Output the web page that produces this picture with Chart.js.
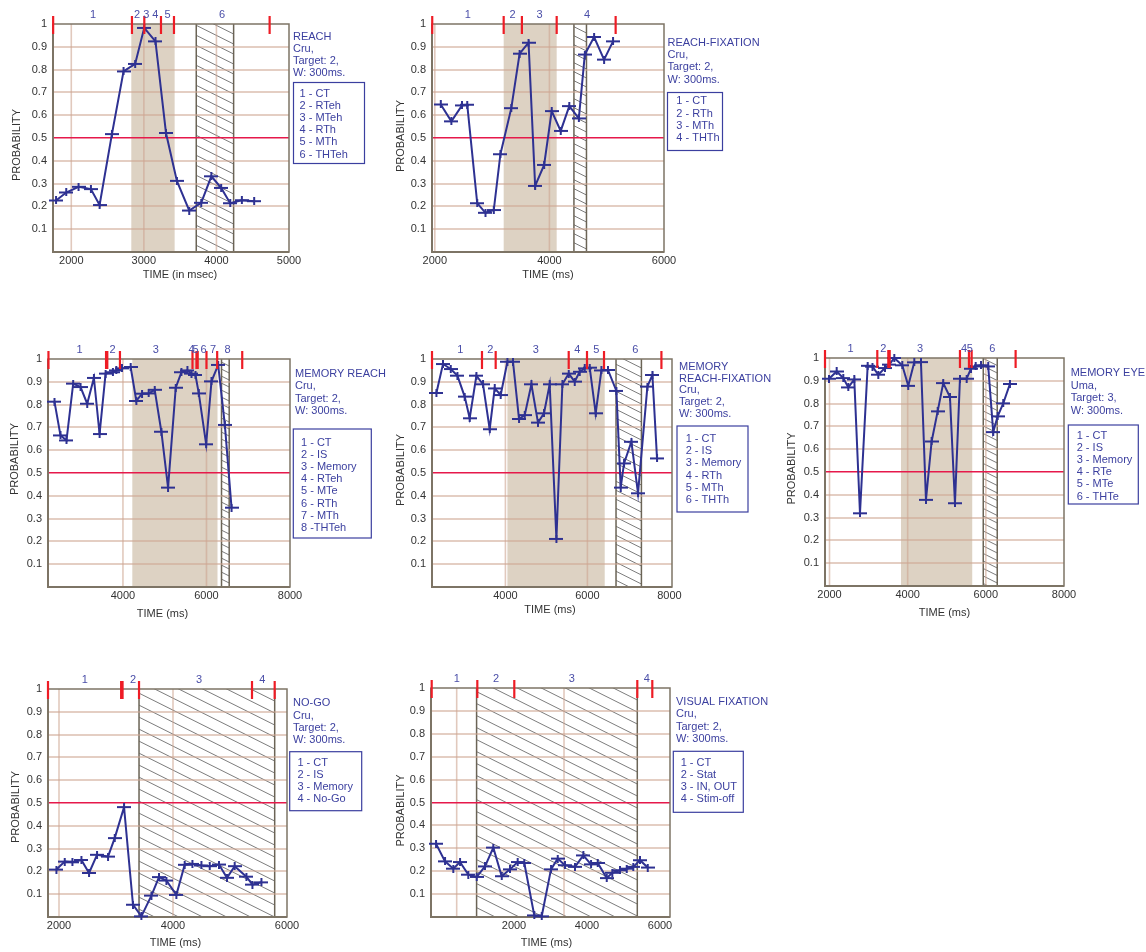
<!DOCTYPE html>
<html>
<head>
<meta charset="utf-8">
<script src="https://cdn.jsdelivr.net/npm/chart.js@4.4.0/dist/chart.umd.min.js"></script>
<style>
  body { margin: 0; background: #fff; width: 1146px; height: 952px; overflow: hidden; position: relative; }
  canvas { position: absolute; }
</style>
</head>
<body>
<script>
// ---- data (time in ms, probability) ----
const yTicks = [0, 0.1, 0.2, 0.3, 0.4, 0.5, 0.6, 0.7, 0.8, 0.9, 1];
const yLabels = ['', '0.1', '0.2', '0.3', '0.4', '0.5', '0.6', '0.7', '0.8', '0.9', '1'];

// REACH
const reachT = [1790, 1930, 2100, 2270, 2390, 2560, 2720, 2880, 3005, 3160, 3305, 3455, 3625, 3790, 3930, 4065, 4190, 4350, 4520];
const reachP = [0.226, 0.261, 0.286, 0.276, 0.206, 0.517, 0.792, 0.825, 0.983, 0.924, 0.522, 0.312, 0.182, 0.216, 0.332, 0.281, 0.214, 0.227, 0.223];
const reachEvents = [1750, 2836, 3006, 3236, 3415, 4733];
const reachLabelT = [2299, 2905, 3034, 3158, 3327, 4076];
const reachShade = [[2827, 3424]];
const reachHatch = [[3722, 4237]];
const reachXTicks = [2000, 3000, 4000, 5000];
const reachXGrid = [2000, 3000, 4000];
const reachNote = ['REACH', 'Cru,', 'Target: 2,', 'W: 300ms.'];
const reachLegend = ['1 - CT', '2 - RTeh', '3 - MTeh', '4 - RTh', '5 - MTh', '6 - THTeh'];

// REACH-FIXATION
const rfixT = [2104, 2289, 2474, 2566, 2740, 2884, 3029, 3145, 3335, 3480, 3636, 3751, 3908, 4040, 4197, 4347, 4514, 4618, 4780, 4954, 5110];
const rfixP = [0.647, 0.573, 0.643, 0.646, 0.214, 0.172, 0.184, 0.429, 0.631, 0.870, 0.918, 0.290, 0.382, 0.618, 0.531, 0.640, 0.586, 0.866, 0.943, 0.844, 0.924];
const rfixEvents = [1955, 3202, 3520, 4127, 5156];
const rfixLabelT = [2578, 3358, 3827, 4659];
const rfixShade = [[3202, 4127]];
const rfixHatch = [[4428, 4647]];
const rfixXTicks = [2000, 4000, 6000];
const rfixXGrid = [2000, 4000];
const rfixNote = ['REACH-FIXATION', 'Cru,', 'Target: 2,', 'W: 300ms.'];
const rfixLegend = ['1 - CT', '2 - RTh', '3 - MTh', '4 - THTh'];

// MEMORY REACH
const mreachT = [2360, 2504, 2648, 2808, 2984, 3144, 3304, 3440, 3584, 3760, 3840, 3976, 4184, 4320, 4456, 4616, 4760, 4920, 5080, 5264, 5400, 5544, 5640, 5736, 5816, 5992, 6120, 6280, 6440, 6600];
const mreachP = [0.813, 0.665, 0.643, 0.892, 0.877, 0.804, 0.917, 0.671, 0.936, 0.942, 0.950, 0.959, 0.965, 0.816, 0.848, 0.849, 0.865, 0.681, 0.436, 0.874, 0.942, 0.950, 0.936, 0.930, 0.849, 0.626, 0.902, 0.974, 0.711, 0.348];
const mreachEvents = [2216, 3595, 3625, 3928, 5665, 5760, 5790, 6000, 6256, 6856];
const mreachLabelT = [2961, 3753, 4785, 5641, 5737, 5929, 6160, 6506];
const mreachShade = [[4224, 6264]];
const mreachHatch = [[6360, 6544]];
const mreachXTicks = [4000, 6000, 8000];
const mreachXGrid = [4000, 6000];
const mreachNote = ['MEMORY REACH', 'Cru,', 'Target: 2,', 'W: 300ms.'];
const mreachLegend = ['1 - CT', '2 - IS', '3 - Memory', '4 - RTeh', '5 - MTe', '6 - RTh', '7 - MTh', '8 -THTeh'];

// MEMORY REACH-FIXATION
const mfixT = [2317, 2478, 2666, 2829, 3007, 3129, 3293, 3454, 3617, 3739, 3885, 4049, 4185, 4332, 4471, 4634, 4795, 4941, 5080, 5244, 5390, 5544, 5690, 5812, 5934, 6056, 6202, 6341, 6502, 6707, 6812, 6893, 7073, 7234, 7463, 7585, 7698];
const mfixP = [0.851, 0.978, 0.956, 0.927, 0.835, 0.740, 0.927, 0.889, 0.692, 0.871, 0.842, 0.988, 0.988, 0.737, 0.754, 0.889, 0.721, 0.762, 0.889, 0.211, 0.889, 0.936, 0.901, 0.944, 0.959, 0.962, 0.762, 0.950, 0.952, 0.860, 0.436, 0.542, 0.637, 0.411, 0.879, 0.930, 0.564];
const mfixEvents = [2210, 3429, 3763, 5544, 5990, 6405, 7805];
const mfixLabelT = [2902, 3634, 4739, 5756, 6219, 7170];
const mfixShade = [[4049, 6422]];
const mfixHatch = [[6698, 7317]];
const mfixXTicks = [4000, 6000, 8000];
const mfixXGrid = [4000, 6000];
const mfixNote = ['MEMORY', 'REACH-FIXATION', 'Cru,', 'Target: 2,', 'W: 300ms.'];
const mfixLegend = ['1 - CT', '2 - IS', '3 - Memory', '4 - RTh', '5 - MTh', '6 - THTh'];

// MEMORY EYE
const meyeT = [1987, 2184, 2353, 2481, 2634, 2780, 2977, 3100, 3248, 3419, 3530, 3657, 3862, 4015, 4169, 4340, 4468, 4613, 4767, 4910, 5082, 5210, 5338, 5509, 5619, 5739, 5875, 6061, 6189, 6302, 6445, 6616];
const meyeP = [0.909, 0.941, 0.912, 0.871, 0.906, 0.319, 0.966, 0.962, 0.927, 0.956, 0.971, 1.0, 0.968, 0.878, 0.981, 0.982, 0.378, 0.634, 0.766, 0.890, 0.829, 0.363, 0.909, 0.909, 0.953, 0.963, 0.968, 0.963, 0.675, 0.744, 0.801, 0.886];
const meyeEvents = [1885, 3223, 3505, 3540, 5338, 5568, 5637, 6762];
const meyeLabelT = [2542, 3376, 4315, 5440, 5593, 6164];
const meyeShade = [[3829, 5652]];
const meyeHatch = [[5934, 6292]];
const meyeXTicks = [2000, 4000, 6000, 8000];
const meyeXGrid = [2000, 4000, 6000];
const meyeNote = ['MEMORY EYE', 'Uma,', 'Target: 3,', 'W: 300ms.'];
const meyeLegend = ['1 - CT', '2 - IS', '3 - Memory', '4 - RTe', '5 - MTe', '6 - THTe'];

// NO-GO
const nogoT = [1954, 2100, 2235, 2393, 2527, 2667, 2860, 2977, 3141, 3298, 3445, 3621, 3754, 3884, 4059, 4205, 4340, 4498, 4644, 4807, 4947, 5082, 5288, 5393, 5551];
const nogoP = [0.208, 0.243, 0.240, 0.250, 0.193, 0.273, 0.265, 0.346, 0.482, 0.054, 0.003, 0.094, 0.175, 0.160, 0.097, 0.229, 0.233, 0.226, 0.223, 0.230, 0.172, 0.223, 0.177, 0.142, 0.152];
const nogoEvents = [1807, 3090, 3115, 3404, 5386, 5784];
const nogoLabelT = [2451, 3298, 4456, 5568];
const nogoShade = [];
const nogoHatch = [[3404, 5784]];
const nogoXTicks = [2000, 4000, 6000];
const nogoXGrid = [2000, 4000];
const nogoNote = ['NO-GO', 'Cru,', 'Target: 2,', 'W: 300ms.'];
const nogoLegend = ['1 - CT', '2 - IS', '3 - Memory', '4 - No-Go'];

// VISUAL FIXATION
const vfixT = [-137, 110, 337, 521, 748, 978, 1205, 1433, 1663, 1890, 2101, 2282, 2556, 2759, 3014, 3197, 3397, 3671, 3899, 4110, 4293, 4540, 4693, 4904, 5088, 5268, 5452, 5663];
const vfixP = [0.320, 0.243, 0.211, 0.240, 0.185, 0.175, 0.221, 0.303, 0.178, 0.208, 0.240, 0.236, 0.007, 0.003, 0.208, 0.255, 0.226, 0.219, 0.269, 0.230, 0.236, 0.170, 0.193, 0.204, 0.211, 0.219, 0.248, 0.216];
const vfixEvents = [-255, 995, 2008, 5378, 5789];
const vfixLabelT = [430, 1507, 3581, 5636];
const vfixShade = [];
const vfixHatch = [[975, 5378]];
const vfixXTicks = [2000, 4000, 6000];
const vfixXGrid = [430, 3370];
const vfixNote = ['VISUAL FIXATION', 'Cru,', 'Target: 2,', 'W: 300ms.'];
const vfixLegend = ['1 - CT', '2 - Stat', '3 - IN, OUT', '4 - Stim-off'];

// ---- styling ----
const FONT = '"Liberation Sans", Arial, sans-serif';
const LINE = '#2e3192';
const NOTE = '#3b3f9f';
const LABEL = '#4a4ea8';
const TICK = '#333333';

// panel placement on the page (plot box) and text offsets
const panels = [
  { t: reachT, p: reachP, ev: reachEvents, lt: reachLabelT, shade: reachShade, hatch: reachHatch, xt: reachXTicks, xg: reachXGrid, note: reachNote, leg: reachLegend,
    xmin: 1748, xmax: 5000, L: 53, T: 24, W: 236, H: 228, rs: 100, gap: 10, xTitle: 'TIME (in msec)',
    yt: [-36, 7], xtt: [9, 23], nt: [4, 13, 12], box: [4.5, 58.5, 71, 81], lg: [10.5, 70, 12.1] },
  { t: rfixT, p: rfixP, ev: rfixEvents, lt: rfixLabelT, shade: rfixShade, hatch: rfixHatch, xt: rfixXTicks, xg: rfixXGrid, note: rfixNote, leg: rfixLegend,
    xmin: 1951, xmax: 6000, L: 432, T: 24, W: 232, H: 228, rs: 100, gap: 9, xTitle: 'TIME (ms)',
    yt: [-31, -2], xtt: [0, 23], nt: [3.5, 18.5, 12.4], box: [3.5, 68.5, 55, 58], lg: [12.3, 77.4, 12.2] },
  { t: mreachT, p: mreachP, ev: mreachEvents, lt: mreachLabelT, shade: mreachShade, hatch: mreachHatch, xt: mreachXTicks, xg: mreachXGrid, note: mreachNote, leg: mreachLegend,
    xmin: 2205, xmax: 8000, L: 48, T: 359, W: 242, H: 228, rs: 100, gap: 7, xTitle: 'TIME (ms)',
    yt: [-33.5, -14], xtt: [-6.5, 27], nt: [5, 15, 12.3], box: [3.3, 70, 78, 109], lg: [11, 84, 12.1] },
  { t: mfixT, p: mfixP, ev: mfixEvents, lt: mfixLabelT, shade: mfixShade, hatch: mfixHatch, xt: mfixXTicks, xg: mfixXGrid, note: mfixNote, leg: mfixLegend,
    xmin: 2210, xmax: 8063, L: 432, T: 359, W: 240, H: 228, rs: 105, gap: 9, xTitle: 'TIME (ms)',
    yt: [-31.5, -3], xtt: [-2, 23], nt: [7, 7.7, 11.8], box: [5, 67, 71, 86], lg: [13.7, 80, 12.2] },
  { t: meyeT, p: meyeP, ev: meyeEvents, lt: meyeLabelT, shade: meyeShade, hatch: meyeHatch, xt: meyeXTicks, xg: meyeXGrid, note: meyeNote, leg: meyeLegend,
    xmin: 1885, xmax: 8000, L: 825, T: 358, W: 239, H: 228, rs: 82, gap: 7.5, xTitle: 'TIME (ms)',
    yt: [-33.3, -3.5], xtt: [0, 27], nt: [6.7, 15.3, 12.4], box: [4.3, 67, 70, 79], lg: [12.7, 78, 12.1] },
  { t: nogoT, p: nogoP, ev: nogoEvents, lt: nogoLabelT, shade: nogoShade, hatch: nogoHatch, xt: nogoXTicks, xg: nogoXGrid, note: nogoNote, leg: nogoLegend,
    xmin: 1807, xmax: 6000, L: 48, T: 689, W: 239, H: 228, rs: 100, gap: 12, xTitle: 'TIME (ms)',
    yt: [-32.3, 4], xtt: [8, 25.5], nt: [6, 14.3, 12.2], box: [2.7, 62.7, 72, 59], lg: [10.4, 73.7, 12.1] },
  { t: vfixT, p: vfixP, ev: vfixEvents, lt: vfixLabelT, shade: vfixShade, hatch: vfixHatch, xt: vfixXTicks, xg: vfixXGrid, note: vfixNote, leg: vfixLegend,
    xmin: -274, xmax: 6274, L: 431, T: 688, W: 239, H: 229, rs: 100, gap: 12, xTitle: 'TIME (ms)',
    yt: [-30.3, 8], xtt: [-4, 25.5], nt: [6, 14, 12.4], box: [3.3, 63.3, 70, 61], lg: [10.7, 74.6, 12.2] }
];

// the "+" marker with a wide horizontal arm
function makeMarker() {
  const c = document.createElement('canvas');
  c.width = 14; c.height = 8;
  const g = c.getContext('2d');
  g.fillStyle = LINE;
  g.fillRect(0, 3, 14, 2);
  g.fillRect(6, 0, 2, 8);
  return c;
}
const marker = makeMarker();

function drawHatch(ctx, x0, x1, top, bottom, gap) {
  const w = x1 - x0;
  ctx.save();
  ctx.fillStyle = '#fff';
  ctx.fillRect(x0, top, w, bottom - top);
  ctx.beginPath();
  ctx.rect(x0, top, w, bottom - top);
  ctx.clip();
  ctx.beginPath();
  ctx.strokeStyle = '#5a5a5a';
  ctx.lineWidth = 0.8;
  for (let y = top - w * 0.5 - gap; y < bottom + gap; y += gap) {
    ctx.moveTo(x0, y);
    ctx.lineTo(x1, y + w * 0.5);
  }
  ctx.stroke();
  ctx.restore();
  ctx.save();
  ctx.strokeStyle = '#6b6456';
  ctx.lineWidth = 1.5;
  ctx.beginPath();
  ctx.moveTo(x0, top); ctx.lineTo(x0, bottom);
  ctx.moveTo(x1, top); ctx.lineTo(x1, bottom);
  ctx.stroke();
  ctx.restore();
}

function panelPlugin(cfg) {
  return {
    id: 'panelDeco',
    beforeDraw(chart) {
      const { ctx, chartArea: a, scales: { x } } = chart;
      ctx.save();
      cfg.shade.forEach(r => {
        const x0 = x.getPixelForValue(r[0]), x1 = x.getPixelForValue(r[1]);
        ctx.fillStyle = '#ddd2c3';
        ctx.fillRect(x0, a.top, x1 - x0, a.bottom - a.top);
      });
      cfg.hatch.forEach(r => {
        drawHatch(ctx, x.getPixelForValue(r[0]), x.getPixelForValue(r[1]), a.top, a.bottom, cfg.gap);
      });
      ctx.strokeStyle = 'rgba(205,165,145,0.6)';
      ctx.lineWidth = 1.6;
      cfg.xg.forEach(v => {
        const px = x.getPixelForValue(v);
        ctx.beginPath(); ctx.moveTo(px, a.top); ctx.lineTo(px, a.bottom); ctx.stroke();
      });
      ctx.restore();
    },
    beforeDatasetsDraw(chart) {
      const { ctx, chartArea: a } = chart;
      ctx.save();
      ctx.strokeStyle = '#7d7465';
      ctx.lineWidth = 1.5;
      ctx.strokeRect(a.left, a.top, a.right - a.left, a.bottom - a.top);
      ctx.lineWidth = 2;
      ctx.beginPath();
      ctx.moveTo(a.left, a.top); ctx.lineTo(a.left, a.bottom); ctx.lineTo(a.right, a.bottom);
      ctx.stroke();
      ctx.restore();
    },
    afterDraw(chart) {
      const { ctx, chartArea: a, scales: { x } } = chart;
      ctx.save();
      // event marks on top border
      ctx.strokeStyle = '#ee1c25';
      ctx.lineWidth = 2.2;
      cfg.ev.forEach(v => {
        const px = x.getPixelForValue(v);
        ctx.beginPath(); ctx.moveTo(px, a.top - 8); ctx.lineTo(px, a.top + 10); ctx.stroke();
      });
      // epoch numbers
      ctx.font = '11px ' + FONT;
      ctx.fillStyle = LABEL;
      ctx.textAlign = 'center';
      ctx.textBaseline = 'middle';
      cfg.lt.forEach((v, i) => ctx.fillText(String(i + 1), x.getPixelForValue(v), a.top - 9.5));
      // axis titles
      ctx.fillStyle = '#333';
      ctx.fillText(cfg.xTitle, (a.left + a.right) / 2 + cfg.xtt[0], a.bottom + cfg.xtt[1]);
      ctx.save();
      ctx.translate(a.left + cfg.yt[0], (a.top + a.bottom) / 2 + cfg.yt[1]);
      ctx.rotate(-Math.PI / 2);
      ctx.fillText('PROBABILITY', 0, 0);
      ctx.restore();
      // condition note
      ctx.textAlign = 'left';
      ctx.fillStyle = NOTE;
      cfg.note.forEach((s, i) => ctx.fillText(s, a.right + cfg.nt[0], a.top + cfg.nt[1] + i * cfg.nt[2]));
      // legend box
      ctx.strokeStyle = NOTE;
      ctx.lineWidth = 1.2;
      ctx.strokeRect(a.right + cfg.box[0], a.top + cfg.box[1], cfg.box[2], cfg.box[3]);
      cfg.leg.forEach((s, i) => ctx.fillText(s, a.right + cfg.lg[0], a.top + cfg.lg[1] + i * cfg.lg[2]));
      ctx.restore();
    }
  };
}

panels.forEach(cfg => {
  const cv = document.createElement('canvas');
  const cw = cfg.W + 52 + cfg.rs, chh = cfg.H + 70;
  cv.width = cw; cv.height = chh;
  cv.style.left = (cfg.L - 52) + 'px';
  cv.style.top = (cfg.T - 30) + 'px';
  cv.style.width = cw + 'px';
  cv.style.height = chh + 'px';
  document.body.appendChild(cv);

  new Chart(cv.getContext('2d'), {
    type: 'line',
    data: {
      datasets: [{
        data: cfg.t.map((v, i) => ({ x: v, y: cfg.p[i] })),
        borderColor: LINE,
        borderWidth: 2,
        pointStyle: marker,
        pointRadius: 5,
        tension: 0,
        fill: false,
        clip: false
      }]
    },
    options: {
      responsive: false,
      animation: false,
      devicePixelRatio: 1,
      events: [],
      layout: { padding: { left: 0, top: 30, right: cfg.rs, bottom: 0 } },
      plugins: { legend: { display: false }, tooltip: { enabled: false } },
      scales: {
        x: {
          type: 'linear',
          min: cfg.xmin,
          max: cfg.xmax,
          afterFit(s) { s.height = 40; },
          afterBuildTicks(s) { s.ticks = cfg.xt.map(v => ({ value: v })); },
          grid: { display: false, drawTicks: false },
          border: { display: false },
          ticks: { color: TICK, font: { family: FONT, size: 11 }, padding: 2, maxRotation: 0, autoSkip: false, callback: v => String(v) }
        },
        y: {
          min: 0,
          max: 1,
          afterFit(s) { s.width = 52; },
          afterBuildTicks(s) { s.ticks = yTicks.map(v => ({ value: v })); },
          border: { display: false },
          grid: {
            drawTicks: false,
            color: c => {
              const v = c.tick.value;
              if (v === 0 || v === 1) return 'rgba(0,0,0,0)';
              if (Math.abs(v - 0.5) < 1e-6) return '#e6194b';
              return 'rgba(205,165,145,0.55)';
            },
            lineWidth: c => (Math.abs(c.tick.value - 0.5) < 1e-6 ? 1.5 : 2)
          },
          ticks: {
            color: TICK,
            padding: 6,
            font: { family: FONT, size: 11 },
            callback: v => yLabels[yTicks.indexOf(v)] ?? ''
          }
        }
      }
    },
    plugins: [panelPlugin(cfg)]
  });
});
</script>
</body>
</html>
